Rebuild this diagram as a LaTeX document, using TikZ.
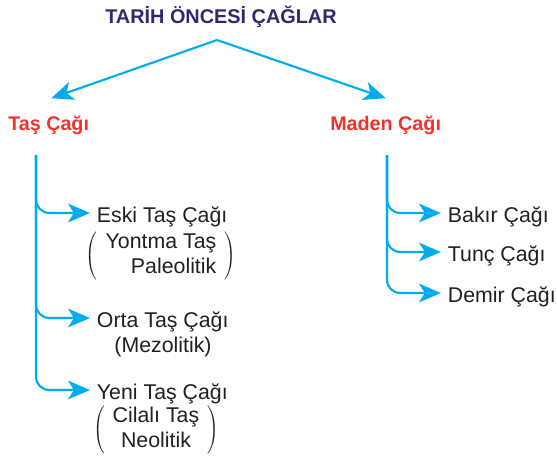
\documentclass[tikz,border=0pt]{standalone}
\usepackage{fontspec}
\setmainfont{Liberation Sans}
\usetikzlibrary{arrows.meta}
\definecolor{linecyan}{RGB}{0,172,236}
\definecolor{titlenavy}{RGB}{42,44,110}
\definecolor{erared}{RGB}{236,52,40}
\definecolor{textgray}{RGB}{35,31,32}
\begin{document}
\begin{tikzpicture}[x=0.75pt,y=-0.75pt,
    branch/.style={draw=linecyan,line width=1.6pt,rounded corners=10pt,-{Stealth[length=16.5pt,width=14pt,inset=4.5pt]}},
    heading/.style={anchor=base,inner sep=0pt,text=titlenavy,font=\bfseries\fontsize{14.9pt}{18pt}\selectfont},
    era/.style={anchor=base west,inner sep=0pt,text=erared,font=\bfseries\fontsize{14.8pt}{18pt}\selectfont},
    age/.style={anchor=west,inner xsep=5pt,inner ysep=0pt,text height=13.5pt,text depth=0pt,text=textgray,font=\fontsize{16pt}{18.75pt}\selectfont},
    note/.style={inner sep=0pt,text=textgray,font=\fontsize{16pt}{18.75pt}\selectfont}]
    \useasboundingbox (0,0) rectangle (557,457);
    \node[heading] (title) at (221,23) {TARİH ÖNCESİ ÇAĞLAR};
    \node[era] (tas) at (8,130) {Taş Çağı};
    \node[era] (maden) at (330,130) {Maden Çağı};
    \coordinate (apex) at (217,40);
    \coordinate (tastop) at (36,155);
    \coordinate (madentop) at (387,155);
    \node[age] (eski) at (90,213) {Eski Taş Çağı};
    \node[note] (eskinote) at (161,256) {$\left(\begin{tabular}{r}Yontma Taş\\Paleolitik\end{tabular}\right)$};
    \node[age] (orta) at (90,318) {Orta Taş Çağı};
    \node[note,anchor=base] (ortanote) at (163,352) {(Mezolitik)};
    \node[age] (yeni) at (90,390) {Yeni Taş Çağı};
    \node[note] (yeninote) at (156,430) {$\left(\begin{tabular}{c}Cilalı Taş\\Neolitik\end{tabular}\right)$};
    \node[age] (bakir) at (441,213) {Bakır Çağı};
    \node[age] (tunc) at (441,252) {Tunç Çağı};
    \node[age] (demir) at (441,293) {Demir Çağı};
    \draw[branch] (apex) -- ([xshift=2pt,yshift=12.75pt]tas.north);
    \draw[branch] (apex) -- ([yshift=12.75pt]maden.north);
    \draw[branch] (tastop) |- (eski.west);
    \draw[branch] (tastop) |- (orta.west);
    \draw[branch] (tastop) |- (yeni.west);
    \draw[branch] (madentop) |- (bakir.west);
    \draw[branch] (madentop) |- (tunc.west);
    \draw[branch] (madentop) |- (demir.west);
\end{tikzpicture}
\end{document}
